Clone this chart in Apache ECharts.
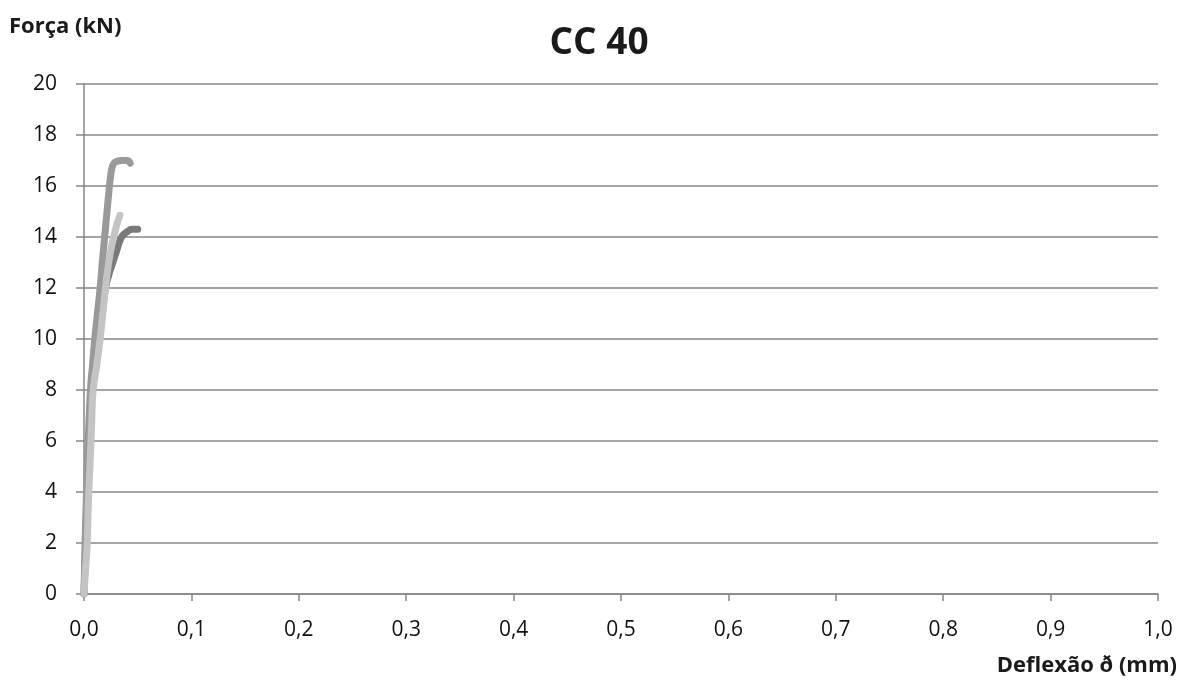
<!DOCTYPE html>
<html><head><meta charset="utf-8">
<script src="https://cdn.jsdelivr.net/npm/echarts@6/dist/echarts.min.js"></script>
<style>html,body{margin:0;padding:0;background:#fff}#c{width:1184px;height:684px}</style>
</head><body><div id="c"></div>
<script>
const xTicks = [0,0.1,0.2,0.3,0.4,0.5,0.6,0.7,0.8,0.9,1.0];
const cp1 = [[0,0],[0.001,2],[0.002,3.5],[0.004,6],[0.006,8],[0.008,9],[0.010,10],[0.0125,11],[0.015,12],[0.017,13],[0.019,13.9],[0.021,14.8],[0.023,15.7],[0.0245,16.3],[0.026,16.7],[0.028,16.9],[0.031,16.97],[0.035,17.0],[0.040,17.0],[0.043,16.9]];
const cp2 = [[0,0],[0.0015,1],[0.003,2],[0.004,3.5],[0.0055,5],[0.007,6.5],[0.0085,8],[0.012,9],[0.015,10],[0.0175,11],[0.020,12],[0.023,13],[0.026,13.7],[0.030,14.4],[0.0335,14.85]];
const cp3 = [[0,0],[0.0015,2],[0.003,4],[0.005,6.5],[0.008,8],[0.011,9],[0.014,10],[0.017,11],[0.020,12],[0.023,12.5],[0.026,12.9],[0.030,13.4],[0.035,14.0],[0.040,14.2],[0.045,14.3],[0.050,14.3]];
const ff = 'Open Sans';
const chart = echarts.init(document.getElementById('c'));
chart.setOption({
  animation:false,
  backgroundColor:'#fff',
  title:{text:'CC 40',left:594,top:20,textAlign:'center',textStyle:{fontFamily:ff,fontSize:37,fontWeight:'bold',color:'#1a1a1a'}},
  graphic:[
    {type:'text',left:9,top:16,style:{text:'Força (kN)',font:'bold 22px "Open Sans"',fill:'#1a1a1a'}},
    {type:'text',right:7,top:655,style:{text:'Deflexão ð (mm)',font:'bold 22px "Open Sans"',fill:'#1a1a1a'}}
  ],
  grid:{left:84,right:26,top:84,bottom:90,containLabel:false},
  xAxis:{type:'value',min:0,max:1,interval:0.1,
    axisLine:{show:true,lineStyle:{color:'#868686',width:1.5}},
    axisTick:{show:true,inside:false,length:7,lineStyle:{color:'#868686',width:1.5}},
    splitLine:{show:false},
    axisLabel:{margin:26,fontFamily:ff,fontSize:21,color:'#111',formatter:v=>v.toFixed(1).replace('.',',')}},
  yAxis:{type:'value',min:0,max:20,interval:2,
    axisLine:{show:true,lineStyle:{color:'#868686',width:1.5}},
    axisTick:{show:true,inside:false,length:8,lineStyle:{color:'#868686',width:1.5}},
    splitLine:{show:true,lineStyle:{color:'#868686',width:1.5}},
    axisLabel:{margin:27,fontFamily:ff,fontSize:21,color:'#111'}},
  series:[
    {type:'line',data:cp3,showSymbol:false,smooth:true,lineStyle:{color:'#7a7a7a',width:7,cap:'round',join:'round'}},
    {type:'line',data:cp1,showSymbol:false,smooth:true,lineStyle:{color:'#999999',width:7,cap:'round',join:'round'}},
    {type:'line',data:cp2,showSymbol:false,smooth:true,lineStyle:{color:'#c4c4c4',width:7,cap:'round',join:'round'}}
  ]
});
</script></body></html>
